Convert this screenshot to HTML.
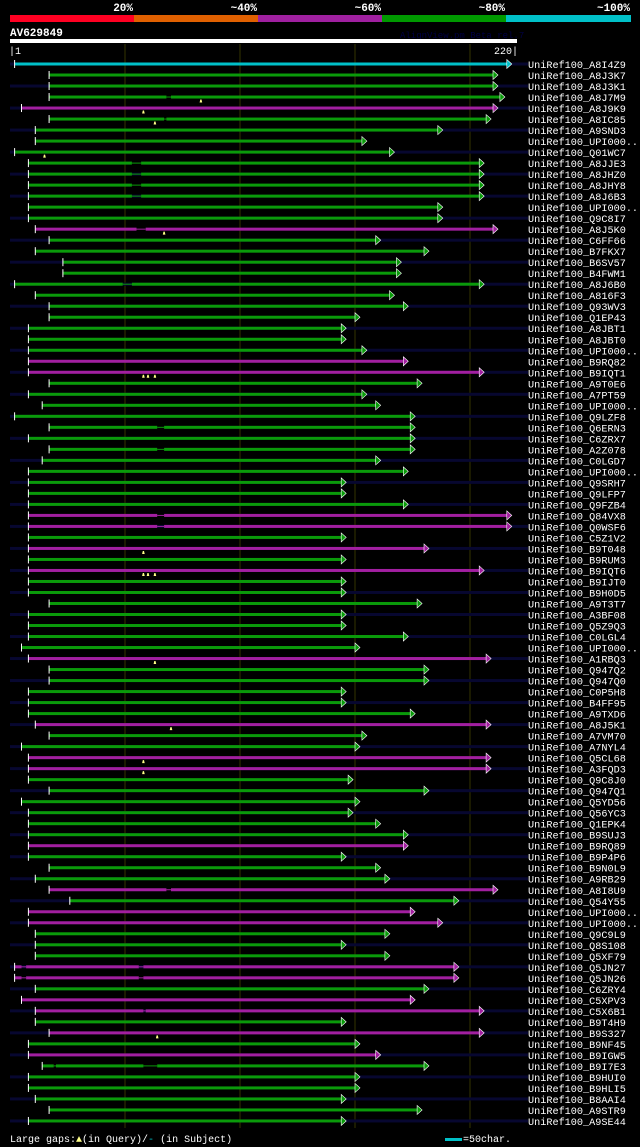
<!DOCTYPE html>
<html><head><meta charset="utf-8"><style>
html,body{margin:0;padding:0;background:#000;}
svg{display:block;}
text{font-family:"Liberation Mono",monospace;}
</style></head><body>
<svg id="chart" width="640" height="1147" viewBox="0 0 640 1147" xmlns="http://www.w3.org/2000/svg">
<rect width="640" height="1147" fill="#000"/>
<g>
<rect x="10" y="15" width="124" height="7" fill="#ff0022"/>
<rect x="134" y="15" width="124" height="7" fill="#e06000"/>
<rect x="258" y="15" width="124" height="7" fill="#a020a0"/>
<rect x="382" y="15" width="124" height="7" fill="#009900"/>
<rect x="506" y="15" width="125" height="7" fill="#00c0c8"/>
<text x="133" y="11" fill="#fff" font-size="11" font-weight="bold" text-anchor="end">20%</text>
<text x="257" y="11" fill="#fff" font-size="11" font-weight="bold" text-anchor="end">~40%</text>
<text x="381" y="11" fill="#fff" font-size="11" font-weight="bold" text-anchor="end">~60%</text>
<text x="505" y="11" fill="#fff" font-size="11" font-weight="bold" text-anchor="end">~80%</text>
<text x="630" y="11" fill="#fff" font-size="11" font-weight="bold" text-anchor="end">~100%</text>
</g>
<text x="10" y="36" fill="#fff" font-size="11" font-weight="bold">AV629849</text>
<text x="400" y="38" fill="#000044" font-size="9">AlignView.pm Beta rel.7</text>
<rect x="10" y="39" width="507" height="4" fill="#fff"/>
<text x="9" y="54" fill="#fff" font-size="10">|1</text>
<text x="518" y="54" fill="#fff" font-size="10" text-anchor="end">220|</text>
<g id="grid"></g>
<g id="rows"></g>
<g>
<text x="10" y="1142" fill="#fff" font-size="10">Large gaps:<tspan fill="#ffff88">▲</tspan>(in Query)/<tspan fill="#00c0c8">-</tspan> (in Subject)</text>
<rect x="445" y="1138" width="17" height="3" fill="#00c0c8"/>
<text x="463" y="1142" fill="#fff" font-size="10">=50char.</text>
</g>
</svg>
<script>
const names=["A8I4Z9","A8J3K7","A8J3K1","A8J7M9","A8J9K9","A8IC85","A9SND3","UPI000..","Q01WC7","A8JJE3","A8JHZ0","A8JHY8","A8J6B3","UPI000..","Q9C8I7","A8J5K0","C6FF66","B7FKX7","B6SV57","B4FWM1","A8J6B0","A816F3","Q93WV3","Q1EP43","A8JBT1","A8JBT0","UPI000..","B9RQ82","B9IQT1","A9T0E6","A7PT59","UPI000..","Q9LZF8","Q6ERN3","C6ZRX7","A2Z078","C0LGD7","UPI000..","Q9SRH7","Q9LFP7","Q9FZB4","Q84VX8","Q0WSF6","C5Z1V2","B9T048","B9RUM3","B9IQT6","B9IJT0","B9H0D5","A9T3T7","A3BF08","Q5Z9Q3","C0LGL4","UPI000..","A1RBQ3","Q947Q2","Q947Q0","C0P5H8","B4FF95","A9TXD6","A8J5K1","A7VM70","A7NYL4","Q5CL68","A3FQD3","Q9C8J0","Q947Q1","Q5YD56","Q56YC3","Q1EPK4","B9SUJ3","B9RQ89","B9P4P6","B9N0L9","A9RB29","A8I8U9","Q54Y55","UPI000..","UPI000..","Q9C9L9","Q8S108","Q5XF79","Q5JN27","Q5JN26","C6ZRY4","C5XPV3","C5X6B1","B9T4H9","B9S327","B9NF45","B9IGW5","B9I7E3","B9HUI0","B9HLI5","B8AAI4","A9STR9","A9SE44"];
const starts=[2,17,17,17,5,17,11,11,2,8,8,8,8,8,8,11,17,11,23,23,2,11,17,17,8,8,8,8,8,17,8,14,2,17,8,17,14,8,8,8,8,8,8,8,8,8,8,8,8,17,8,8,8,5,8,17,17,8,8,8,11,17,5,8,8,8,17,5,8,8,8,8,8,17,11,17,26,8,8,11,11,11,2,2,11,5,11,11,17,8,8,14,8,8,11,17,8];
const ends=[216,210,210,213,210,207,186,153,165,204,204,204,204,186,186,210,159,180,168,168,204,165,171,150,144,144,153,171,204,177,153,159,174,174,174,174,159,171,144,144,171,216,216,144,180,144,204,144,144,177,144,144,171,150,207,180,180,144,144,174,207,153,150,207,207,147,180,150,147,159,171,171,144,159,163,210,193,174,186,163,144,163,193,193,180,174,204,144,204,150,159,180,150,150,144,177,144];
const identity=["c","g","g","g","m","g","g","g","g","g","g","g","g","g","g","m","g","g","g","g","g","g","g","g","g","g","g","m","m","g","g","g","g","g","g","g","g","g","g","g","g","m","m","g","m","g","m","g","g","g","g","g","g","g","m","g","g","g","g","g","m","g","g","m","m","g","g","g","g","g","g","m","g","g","g","m","g","m","m","g","g","g","m","m","g","m","m","g","m","g","m","g","g","g","g","g","g"];
const subjectGaps={4:[[68,70]],6:[[67,68]],10:[[53,57]],11:[[53,57]],12:[[53,57]],13:[[53,57]],16:[[55,59]],21:[[49,53]],34:[[64,67]],36:[[64,67]],42:[[64,67]],43:[[64,67]],76:[[68,70]],83:[[5,7],[56,58]],84:[[5,7],[56,58]],87:[[58,59]],92:[[19,20],[58,64]]};
const queryGaps={4:[83],5:[58],6:[63],9:[15],16:[67],29:[58,60,63],45:[58],47:[58,60,63],55:[63],61:[70],64:[58],65:[58],89:[64]};
const gridTicks=[50,100,150,200];

const NS="http://www.w3.org/2000/svg";
const colors={c:"#00c0c8",g:"#0a9a0a",m:"#a21fa0"};
function xScale(p){return 10+p*2.3;}
function yScale(i){return 64+i*11.01;}
function mk(tag,attrs,parent){const e=document.createElementNS(NS,tag);for(const k in attrs)e.setAttribute(k,attrs[k]);parent.appendChild(e);return e;}
const grid=document.getElementById('grid');
gridTicks.forEach(t=>{
  const l=mk('line',{x1:xScale(t),x2:xScale(t),y1:44,y2:1128,stroke:'#333300','stroke-width':1},grid);
  
  
});
const rows=document.getElementById('rows');
names.forEach((n,i)=>{
  const y=yScale(i);
  const g=mk('g',{},rows);
  
  
  if(i%2===0){
    const bg=mk('rect',{x:10,y:y-1.5,width:518,height:3,fill:'#070730'},g);
    
    
  }
  const c=colors[identity[i]];
  const x0=xScale(starts[i]),x1=xScale(ends[i]);
  const gaps=subjectGaps[i+1]||[];
  let segs=[];let cur=x0;
  gaps.forEach(gp=>{segs.push([cur,xScale(gp[0])]);
    const t=mk('rect',{x:xScale(gp[0]),y:y-0.5,width:xScale(gp[1])-xScale(gp[0]),height:1,fill:c},g);
    
    
    cur=xScale(gp[1]);});
  segs.push([cur,x1]);
  segs.forEach(s=>{
    const r=mk('rect',{x:s[0],y:y-1.5,width:s[1]-s[0],height:3,fill:c},g);
    
    
  });
  const tk=mk('rect',{x:x0-0.5,y:y-4,width:1,height:8,fill:'#fff'},g);
  
  
  const ar=mk('polygon',{points:`${x1},${y-4.5} ${x1+5},${y} ${x1},${y+4.5}`,fill:c,stroke:'#fff','stroke-width':0.6},g);
  
  
  (queryGaps[i+1]||[]).forEach(q=>{
    const m=mk('polygon',{points:`${xScale(q)-1.3},${y+5.5} ${xScale(q)+1.3},${y+5.5} ${xScale(q)+0.6},${y+2.5} ${xScale(q)-0.6},${y+2.5}`,fill:'#ffff88'},g);
    
    
  });
  const tx=mk('text',{x:528,y:y+4,fill:'#fff','font-size':'10.2'},g);
  tx.textContent='UniRef100_'+n;
  
  
});
</script>
</body></html>
